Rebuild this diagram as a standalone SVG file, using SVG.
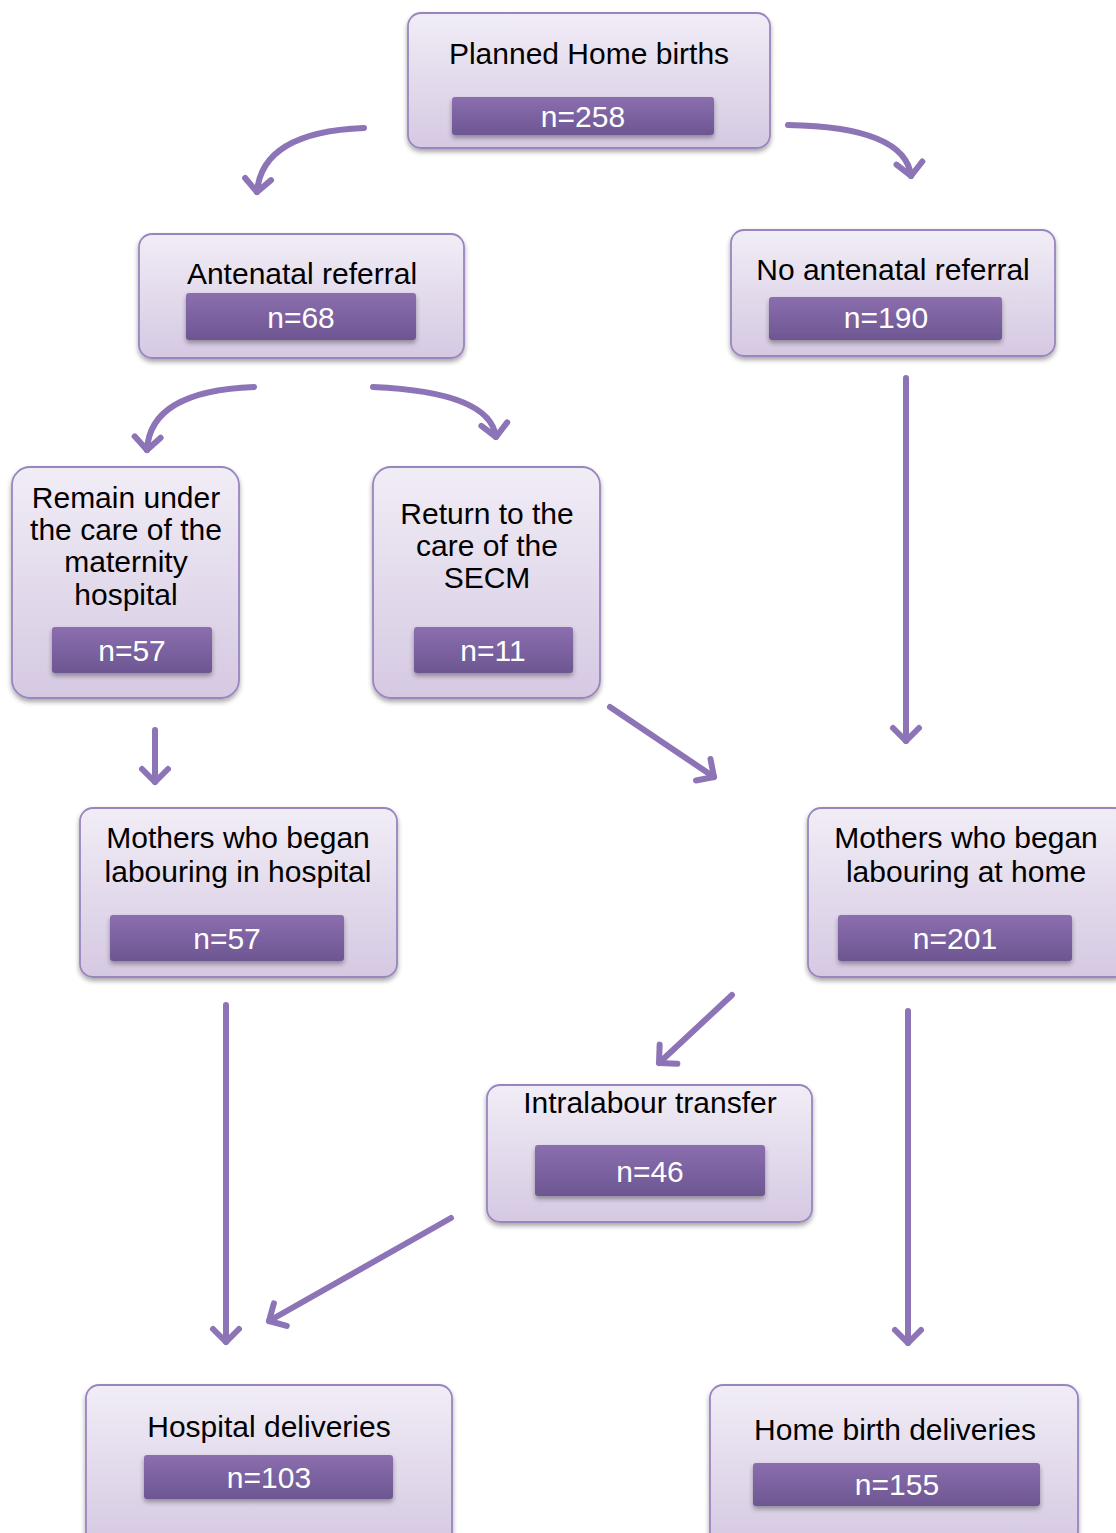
<svg xmlns="http://www.w3.org/2000/svg" width="1116" height="1533" viewBox="0 0 1116 1533">
<defs>
<linearGradient id="boxg" x1="0" y1="0" x2="0" y2="1">
<stop offset="0" stop-color="#F1EDF6"/>
<stop offset="1" stop-color="#D5C9E2"/>
</linearGradient>
<linearGradient id="barg" x1="0" y1="0" x2="0" y2="1">
<stop offset="0" stop-color="#8B6EAE"/>
<stop offset="1" stop-color="#6D5692"/>
</linearGradient>
<filter id="sh" x="-10%" y="-10%" width="120%" height="130%">
<feGaussianBlur in="SourceAlpha" stdDeviation="2.5"/>
<feOffset dx="0" dy="3" result="b"/>
<feComponentTransfer><feFuncA type="linear" slope="0.35"/></feComponentTransfer>
<feMerge><feMergeNode/><feMergeNode in="SourceGraphic"/></feMerge>
</filter>
<marker id="ah" markerUnits="userSpaceOnUse" markerWidth="40" markerHeight="40" viewBox="-20 -20 40 40" refX="0" refY="0" orient="auto">
<path d="M-13,-13 L0,0 L-13,13" fill="none" stroke="#8C74B6" stroke-width="6" stroke-linecap="round" stroke-linejoin="round"/>
</marker>
</defs>
<style>
.box{fill:url(#boxg);stroke:#9A85BE;stroke-width:1.8;filter:url(#sh)}
.bar{fill:url(#barg);filter:url(#sh)}
.t{font-family:"Liberation Sans",Arial,sans-serif;font-size:30px;fill:#000;text-anchor:middle}
.n{font-family:"Liberation Sans",Arial,sans-serif;font-size:30px;fill:#fff;text-anchor:middle}
.c{fill:none;stroke:#8C74B6;stroke-width:6;stroke-linecap:round;marker-end:url(#ah)}
</style>
<g id="connectors">
<path class="c" d="M364,128 Q262,132 257,192"/>
<path class="c" d="M788,125 Q905,127 911,176"/>
<path class="c" d="M254,387 Q150,391 147,450"/>
<path class="c" d="M373,387 Q490,392 496,437"/>
<path class="c" d="M906,378 L906,741"/>
<path class="c" d="M155,730 L155,782"/>
<path class="c" d="M610,707 L714,777"/>
<path class="c" d="M732,995 L659,1063"/>
<path class="c" d="M226,1005 L226,1342"/>
<path class="c" d="M451,1218 L269,1321"/>
<path class="c" d="M908,1011 L908,1343"/>
</g>
<g id="planned">
<rect class="box" x="408" y="13" width="362" height="135" rx="13"/>
<rect class="bar" x="452" y="97" width="262" height="38" rx="3"/>
<text class="t" x="589" y="64">Planned Home births</text>
<text class="n" x="583" y="127">n=258</text>
</g>
<g id="antenatal">
<rect class="box" x="139" y="234" width="325" height="124" rx="13"/>
<rect class="bar" x="186" y="293" width="230" height="47" rx="3"/>
<text class="t" x="302" y="284">Antenatal referral</text>
<text class="n" x="301" y="328">n=68</text>
</g>
<g id="noantenatal">
<rect class="box" x="731" y="230" width="324" height="126" rx="13"/>
<rect class="bar" x="769" y="297" width="233" height="43" rx="3"/>
<text class="t" x="893" y="280">No antenatal referral</text>
<text class="n" x="886" y="328">n=190</text>
</g>
<g id="remain">
<rect class="box" x="12" y="467" width="227" height="231" rx="18"/>
<rect class="bar" x="52" y="627" width="160" height="46" rx="3"/>
<text class="t" x="126" y="508">Remain under</text>
<text class="t" x="126" y="540">the care of the</text>
<text class="t" x="126" y="572">maternity</text>
<text class="t" x="126" y="605">hospital</text>
<text class="n" x="132" y="661">n=57</text>
</g>
<g id="return">
<rect class="box" x="373" y="467" width="227" height="231" rx="18"/>
<rect class="bar" x="414" y="627" width="159" height="46" rx="3"/>
<text class="t" x="487" y="524">Return to the</text>
<text class="t" x="487" y="556">care of the</text>
<text class="t" x="487" y="588">SECM</text>
<text class="n" x="493" y="661">n=11</text>
</g>
<g id="labhospital">
<rect class="box" x="80" y="808" width="317" height="169" rx="13"/>
<rect class="bar" x="110" y="915" width="234" height="46" rx="3"/>
<text class="t" x="238" y="848">Mothers who began</text>
<text class="t" x="238" y="882">labouring in hospital</text>
<text class="n" x="227" y="949">n=57</text>
</g>
<g id="labhome">
<rect class="box" x="808" y="808" width="320" height="169" rx="13"/>
<rect class="bar" x="838" y="915" width="234" height="46" rx="3"/>
<text class="t" x="966" y="848">Mothers who began</text>
<text class="t" x="966" y="882">labouring at home</text>
<text class="n" x="955" y="949">n=201</text>
</g>
<g id="intralabour">
<rect class="box" x="487" y="1085" width="325" height="137" rx="13"/>
<rect class="bar" x="535" y="1145" width="230" height="51" rx="3"/>
<text class="t" x="650" y="1113">Intralabour transfer</text>
<text class="n" x="650" y="1182">n=46</text>
</g>
<g id="hospdel">
<rect class="box" x="86" y="1385" width="366" height="160" rx="13"/>
<rect class="bar" x="144" y="1455" width="249" height="44" rx="3"/>
<text class="t" x="269" y="1437">Hospital deliveries</text>
<text class="n" x="269" y="1488">n=103</text>
</g>
<g id="homedel">
<rect class="box" x="710" y="1385" width="368" height="160" rx="13"/>
<rect class="bar" x="753" y="1463" width="287" height="43" rx="3"/>
<text class="t" x="895" y="1440">Home birth deliveries</text>
<text class="n" x="897" y="1495">n=155</text>
</g>
</svg>
